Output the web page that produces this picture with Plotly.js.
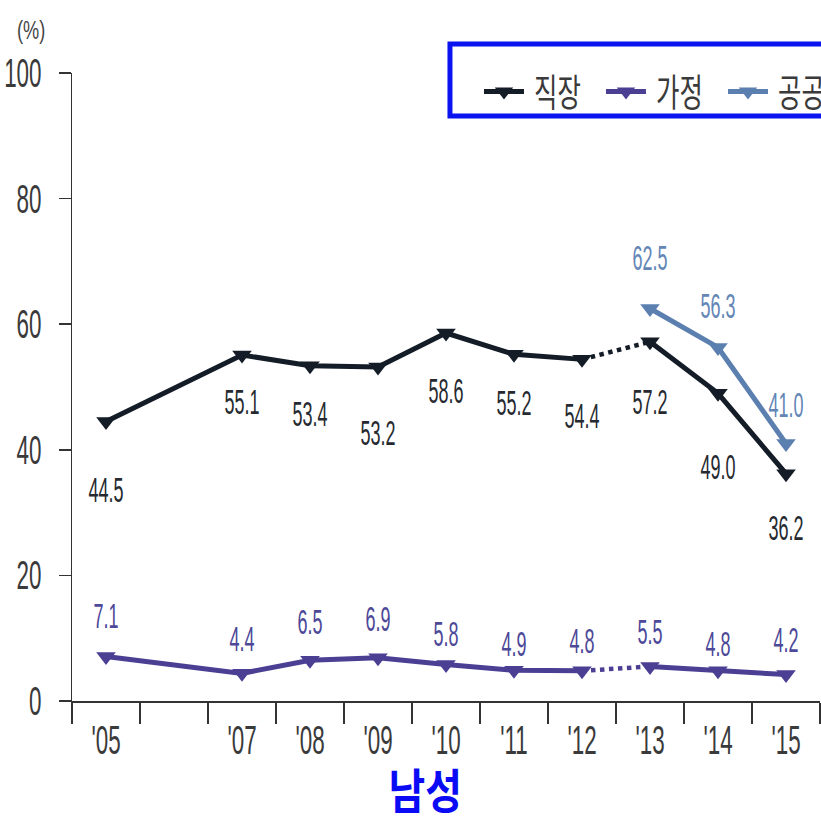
<!DOCTYPE html>
<html>
<head>
<meta charset="utf-8">
<script src="https://cdn.plot.ly/plotly-3.0.1.min.js"></script>
<style>
html,body{margin:0;padding:0;overflow:hidden;background:#fff;width:821px;height:816px;}
#chart{width:900px;height:816px;}
</style>
</head>
<body>
<div id="chart"></div>
<script>
// ---- data ----
const years = [2005, 2007, 2008, 2009, 2010, 2011, 2012, 2013, 2014, 2015];
const tickLabels = ["'05", "'07", "'08", "'09", "'10", "'11", "'12", "'13", "'14", "'15"];
const workplace = [44.5, 55.1, 53.4, 53.2, 58.6, 55.2, 54.4, 57.2, 49.0, 36.2];   // 직장
const home = [7.1, 4.4, 6.5, 6.9, 5.8, 4.9, 4.8, 5.5, 4.8, 4.2];                 // 가정
const publicYears = [2013, 2014, 2015];
const publicPlace = [62.5, 56.3, 41.0];                                         // 공공
const seriesNames = ["직장", "가정", "공공"];
const breakYear = 2012; // dotted segment between '12 and '13

// ---- label placement (styling, px) ----
const workLabelShift = [-68, -47, -48, -66, -58, -48, -56, -60, -73, -54];
const homeLabelShift = [41, 35, 39, 39, 31, 27, 30, 35, 27, 35];
const pubLabelShift = [51, 42, 39];

// ---- styles ----
const C_WORK = "#141d27", C_HOME = "#4b3f94", C_PUB = "#5b80b0";
const NUM_FONT = "Liberation Sans, Arial, sans-serif";
const KR_FONT = "Noto Sans CJK KR, sans-serif";

function split(xs, ys) {
  const i = xs.indexOf(breakYear);
  return {
    a: [xs.slice(0, i + 1), ys.slice(0, i + 1)],
    d: [xs.slice(i, i + 2), ys.slice(i, i + 2)],
    b: [xs.slice(i + 1), ys.slice(i + 1)]
  };
}
function segTraces(xs, ys, name, color) {
  const s = split(xs, ys);
  const base = {type: "scatter", legendgroup: name, name: name, hoverinfo: "x+y",
    marker: {symbol: "triangle-down", size: 17, color: color},
    line: {color: color, width: 5}};
  return [
    Object.assign({}, base, {x: s.a[0], y: s.a[1], mode: "lines+markers", showlegend: true}),
    Object.assign({}, base, {x: s.d[0], y: s.d[1], mode: "lines", showlegend: false,
      line: {color: color, width: 4.5, dash: "dot"}}),
    Object.assign({}, base, {x: s.b[0], y: s.b[1], mode: "lines+markers", showlegend: false})
  ];
}

const traces = [
  ...segTraces(years, workplace, seriesNames[0], C_WORK),
  ...segTraces(years, home, seriesNames[1], C_HOME),
  {type: "scatter", x: publicYears, y: publicPlace, name: seriesNames[2], legendgroup: seriesNames[2],
   mode: "lines+markers", marker: {symbol: "triangle-down", size: 17, color: C_PUB},
   line: {color: C_PUB, width: 5}}
];

function labels(xs, ys, color, shifts) {
  return xs.map((x, i) => ({
    x: x, y: ys[i], xref: "x", yref: "y", text: ys[i].toFixed(1), showarrow: false,
    xanchor: "center", yanchor: "middle",
    yshift: shifts[i], font: {family: NUM_FONT, size: 36, color: color}
  }));
}

const annotations = [
  ...labels(years, workplace, "#262a30", workLabelShift),
  ...labels(years, home, "#4d4898", homeLabelShift),
  ...labels(publicYears, publicPlace, "#6386b6", pubLabelShift),
  {xref: "paper", yref: "paper", x: -0.0548, y: 1.0685, xanchor: "center", yanchor: "middle",
   text: "(%)", showarrow: false, font: {family: NUM_FONT, size: 26, color: "#444"}},
  {xref: "paper", yref: "paper", x: 0.472, y: -0.1385, xanchor: "center", yanchor: "middle",
   text: "<b>남성</b>", showarrow: false, font: {family: KR_FONT, size: 47, color: "#0a0af5"}}
];

const minorTicks = [];
for (let v = 2004.5; v <= 2015.5; v += 1) minorTicks.push(v);

const layout = {
  width: 900, height: 816,
  margin: {l: 72, r: 80, t: 73, b: 115, autoexpand: false},
  paper_bgcolor: "#ffffff", plot_bgcolor: "#ffffff",
  showlegend: true,
  legend: {orientation: "h", x: 0.5441, y: 0.970, xanchor: "left", yanchor: "middle",
    bgcolor: "rgba(0,0,0,0)", borderwidth: 0, itemwidth: 40, entrywidth: 67, entrywidthmode: "pixels",
    font: {family: KR_FONT, size: 38, color: "#3a3a3a"}},
  xaxis: {range: [2004.5, 2015.5], showgrid: false, zeroline: false,
    tickmode: "array", tickvals: years, ticktext: tickLabels, ticks: "",
    ticklabelstandoff: 4,
    showline: true, linecolor: "#333", linewidth: 1.5,
    tickfont: {family: NUM_FONT, size: 40, color: "#3a3a3a"},
    minor: {tickmode: "array", tickvals: minorTicks, ticks: "outside", ticklen: 21,
      tickwidth: 1.5, tickcolor: "#333", showgrid: false}},
  yaxis: {range: [0, 100], tickvals: [0, 20, 40, 60, 80, 100], showgrid: false, zeroline: false,
    ticks: "outside", ticklen: 12, tickwidth: 1.5, tickcolor: "#333",
    showline: true, linecolor: "#333", linewidth: 1.5, ticklabelstandoff: 9,
    tickfont: {family: NUM_FONT, size: 40, color: "#3a3a3a"}},
  shapes: [{type: "rect", xref: "paper", yref: "paper", x0: 0.5053, x1: 1.12, y0: 0.9315, y1: 1.0462,
    line: {color: "#0a14f0", width: 5}, fillcolor: "rgba(0,0,0,0)"}],
  annotations: annotations
};

// The reference lettering is tall and narrow; squeeze each text horizontally around its anchor.
function condenseTexts() {
  document.querySelectorAll("#chart svg text").forEach(t => {
    const s = t.textContent;
    if (!s) return;
    const isKr = /[\uac00-\ud7af]/.test(s);
    const inLegend = !!t.closest(".legend");
    let sx;
    if (isKr) sx = inLegend ? 0.67 : 0.85;
    else if (s === "(%)") sx = 0.7;
    else if (t.closest(".annotation")) sx = 0.5;
    else sx = 0.56;
    const bb = t.getBBox();
    const anchor = t.getAttribute("text-anchor") || getComputedStyle(t).textAnchor;
    let cx = bb.x + bb.width / 2;
    if (anchor === "end") cx = bb.x + bb.width;
    else if (anchor === "start") cx = bb.x;
    const dx = inLegend ? 5 : 0;
    const tr = t.getAttribute("transform") || "";
    t.setAttribute("transform", tr + " translate(" + (cx + dx) + ",0) scale(" + sx + ",1) translate(" + (-cx) + ",0)");
  });
}

Plotly.newPlot("chart", traces, layout, {displayModeBar: false, staticPlot: true}).then(condenseTexts);
</script>
</body>
</html>
